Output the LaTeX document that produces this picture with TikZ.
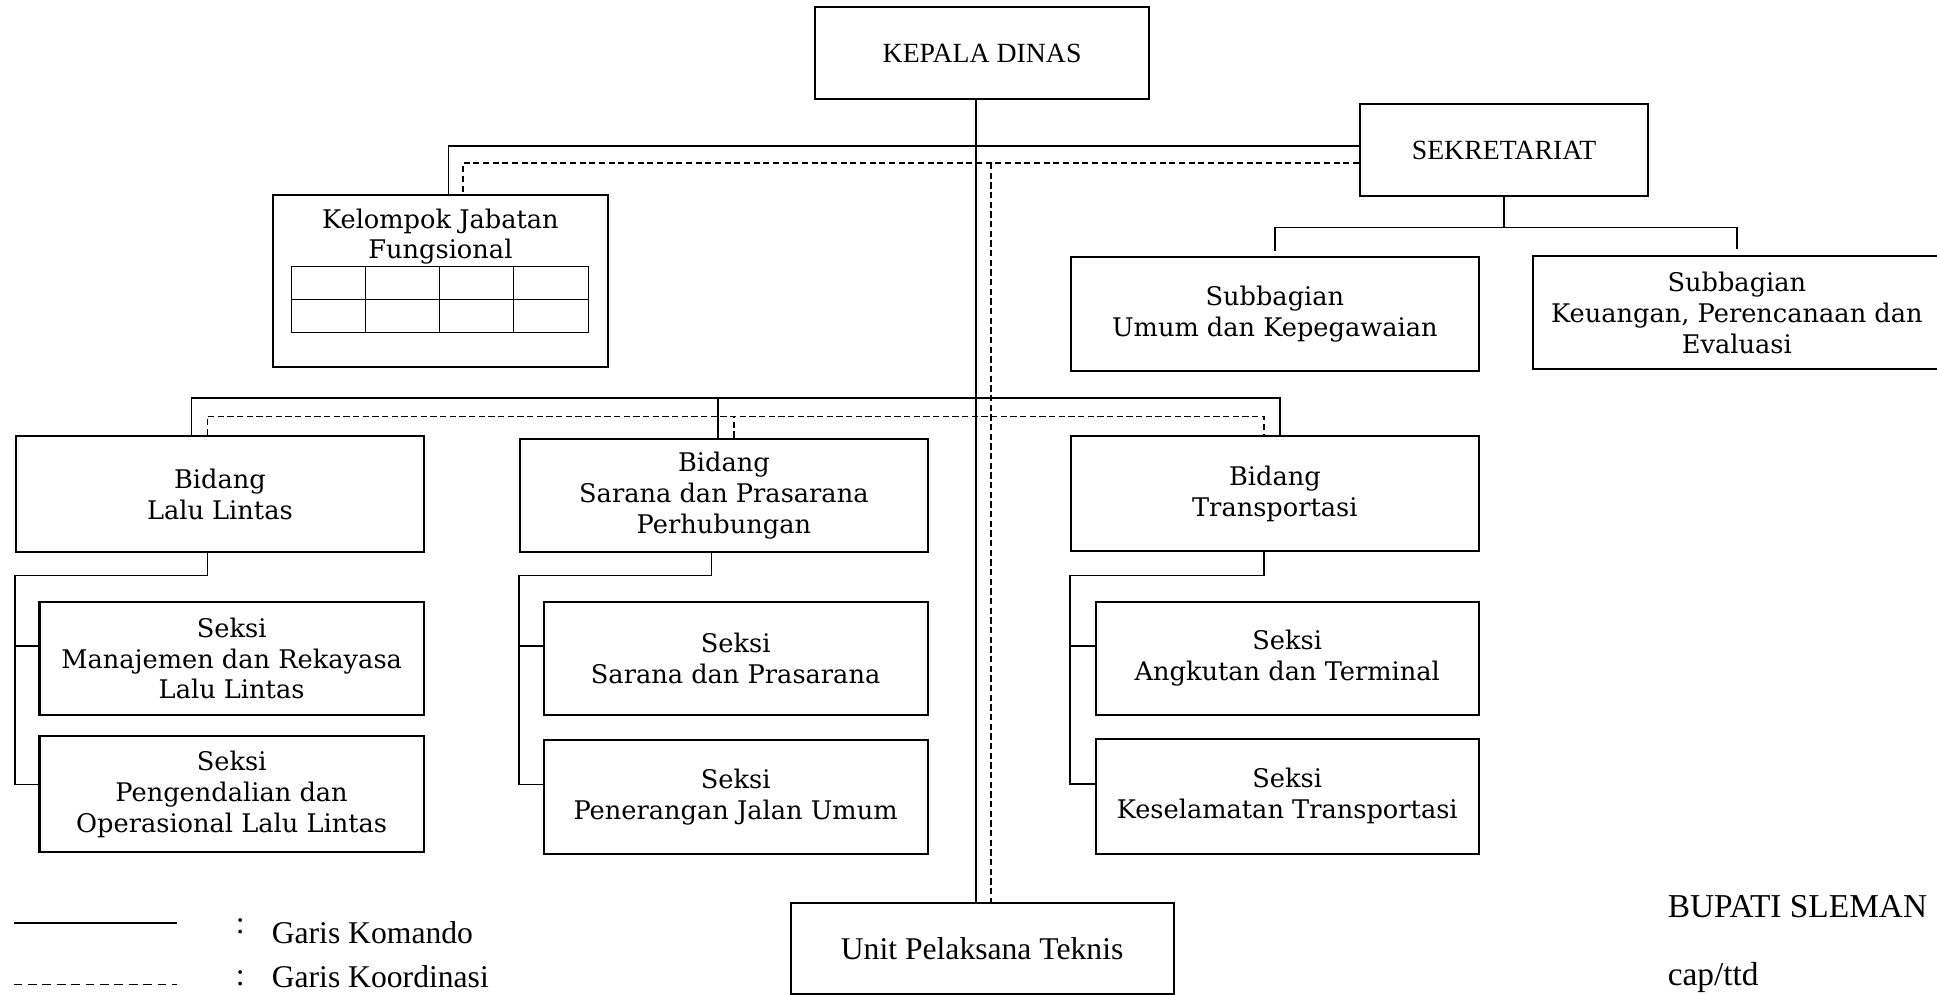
\documentclass[tikz,border=0pt]{standalone}
\usepackage{fontspec}
\setmainfont{Liberation Serif}
\newfontfamily\bookfam{DejaVu Serif}
\usetikzlibrary{calc}
\newlength\upx
\setlength\upx{0.0247cm}
\newcommand\boxfont{\bookfam\fontsize{14.6pt}{17.6pt}\selectfont}
\newcommand\tmsfont[1]{\fontsize{#1}{1.2\dimexpr#1\relax}\selectfont}

\begin{document}
\begin{tikzpicture}[x=\upx, y=-\upx,
        box/.style 2 args={draw, line width=1.2pt, minimum width=#1*\upx, minimum height=#2*\upx, inner sep=0pt, align=center, font=\boxfont},
        komando/.style={line width=0.9pt},
        koordinasi/.style={line width=0.9pt, dash pattern=on 3.5pt off 2pt},
        legenda/.style={anchor=west, font=\tmsfont{18pt}}]
        \useasboundingbox (0,0) rectangle (1568,805);

        % pimpinan dan sekretariat
        \node[box={270}{74}, font=\tmsfont{15.8pt}] (kepala) at (795,43) {KEPALA DINAS};
        \node[box={233}{75}, font=\tmsfont{15.8pt}] (sek) at (1217.5,121.5) {SEKRETARIAT};
        \node[box={330}{92}] (sbu) at (1032,254) {Subbagian\\Umum dan Kepegawaian};
        \node[box={330}{92}] (sbk) at (1406,253) {Subbagian\\Keuangan, Perencanaan dan\\Evaluasi};

        % kelompok jabatan fungsional
        \node[box={271}{139}] (kjf) at (356.5,227.5) {};
        \node[align=center, inner sep=0pt, font=\boxfont] (kjft) at (356.5,191.5) {Kelompok Jabatan\\Fungsional};
        \draw[line width=0.6pt] (236,216) rectangle (476,269);
        \draw[line width=0.6pt] (236,242.5) -- (476,242.5);
        \foreach \gx in {296,356,416}
            \draw[line width=0.6pt] (\gx,216) -- (\gx,269);

        % bidang
        \node[box={330}{94}] (bll) at (178,400) {Bidang\\Lalu Lintas};
        \node[box={330}{92}] (bsp) at (586,401) {Bidang\\Sarana dan Prasarana\\Perhubungan};
        \node[box={330}{93}] (btr) at (1032,399.5) {Bidang\\Transportasi};

        % seksi
        \node[box={311}{92}] (sm) at (187.5,533) {Seksi\\Manajemen dan Rekayasa\\Lalu Lintas};
        \node[box={311}{94}] (spo) at (187.5,643) {Seksi\\Pengendalian dan\\Operasional Lalu Lintas};
        \node[box={311}{92}] (ssp) at (595.5,533) {Seksi\\Sarana dan Prasarana};
        \node[box={311}{92}] (spj) at (595.5,645) {Seksi\\Penerangan Jalan Umum};
        \node[box={310}{92}] (sat) at (1042,533) {Seksi\\Angkutan dan Terminal};
        \node[box={310}{93}] (skt) at (1042,644.5) {Seksi\\Keselamatan Transportasi};

        \node[box={310}{74}, font=\tmsfont{18pt}] (upt) at (795,768) {Unit Pelaksana Teknis};

        % titik bantu garis
        \coordinate (busA) at (0,118);
        \coordinate (busB) at (0,132);
        \coordinate (busC) at (0,322);
        \coordinate (busD) at (0,337);
        \coordinate (busE) at (0,184);
        \coordinate (busF) at (0,466);
        \coordinate (axS) at (790,0);
        \coordinate (axD) at (802,0);
        \coordinate (kjfS) at (363,0);
        \coordinate (kjfD) at (375,0);
        \coordinate (llS) at (155,0);
        \coordinate (llD) at (168,0);
        \coordinate (spS) at (581,0);
        \coordinate (spD) at (594,0);
        \coordinate (trS) at (1036,0);
        \coordinate (trD) at (1023,0);

        % garis komando
        \draw[komando] (kepala.south -| axS) -- (upt.north -| axS);
        \draw[komando] (sek.west |- busA) -| (kjf.north -| kjfS);
        \draw[komando] (sek.south) -- (sek.south |- busE);
        \draw[komando, shorten <=3pt, shorten >=3pt] (sbu.north) |- (busE -| sbk.north) -- (sbk.north);
        \draw[komando] (bll.north -| llS) |- (busC -| trS) -- (btr.north -| trS);
        \draw[komando] (bsp.north -| spS) -- (busC -| spS);

        \draw[komando] (bll.south -| llD) |- (busF -| bll.west) |- ([yshift=10*\upx]sm.west);
        \draw[komando] (busF -| bll.west) |- ([yshift=8*\upx]spo.west);
        \draw[komando] ([xshift=-10*\upx]bsp.south) |- (busF -| bsp.west) |- ([yshift=10*\upx]ssp.west);
        \draw[komando] (busF -| bsp.west) |- ([yshift=10*\upx]spj.west);
        \draw[komando] (btr.south -| trD) |- (busF -| btr.west) |- ([yshift=10*\upx]sat.west);
        \draw[komando] (busF -| btr.west) |- ([yshift=10*\upx]skt.west);

        % garis koordinasi
        \draw[koordinasi] (busB -| axD) -- (upt.north -| axD);
        \draw[koordinasi] (sek.west |- busB) -| (kjf.north -| kjfD);
        \draw[koordinasi] (bll.north -| llD) |- (busD -| trD) -- (btr.north -| trD);
        \draw[koordinasi] (bsp.north -| spD) -- (busD -| spD);

        % keterangan
        \coordinate (lgKa) at (11,747);
        \coordinate (lgKb) at (143,747);
        \coordinate (lgDa) at (11,797);
        \coordinate (lgDb) at (143,797);
        \draw[komando] (lgKa) -- (lgKb);
        \draw[line width=0.9pt, dash pattern=on 5pt off 3.2pt] (lgDa) -- (lgDb);
        \node[legenda] (titikK) at (186,750) {:};
        \node[legenda] (garisK) at (215,755) {Garis Komando};
        \node[legenda] (titikD) at (186,792) {:};
        \node[legenda] (garisD) at (215,791) {Garis Koordinasi};

        \node[anchor=west, font=\tmsfont{19pt}] (bupati) at (1345,734) {BUPATI SLEMAN};
        \node[anchor=west, font=\tmsfont{19pt}] (cap) at (1345,791) {cap/ttd};
\end{tikzpicture}
\end{document}
